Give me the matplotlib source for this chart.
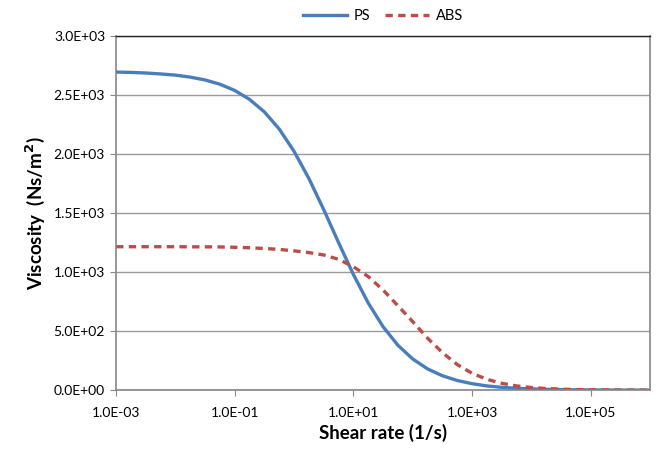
import numpy as np
import matplotlib
matplotlib.use('Agg')
import matplotlib.pyplot as plt
from matplotlib.ticker import FixedLocator, FuncFormatter

# shear rate exponents (log10 of 1/s)
log_rate = [-3, -2.75, -2.5, -2.25, -2, -1.75, -1.5, -1.25, -1, -0.75, -0.5, -0.25,
            0, 0.25, 0.5, 0.75, 1, 1.25, 1.5, 1.75, 2, 2.25, 2.5, 2.75,
            3, 3.25, 3.5, 3.75, 4, 4.25, 4.5, 4.75, 5, 5.25, 5.5, 5.75, 6]
ps = [2694, 2691, 2686, 2678, 2668, 2651, 2627, 2591, 2538, 2462, 2356, 2211,
      2022, 1792, 1528, 1249, 979, 738, 537, 380, 264, 180, 122, 82,
      55, 36, 24, 16, 10.6, 7, 4.6, 3, 2, 1.3, 0.9, 0.6, 0.4]
abs_ = [1215, 1215, 1215, 1215, 1215, 1214, 1214, 1213, 1210, 1206, 1200, 1192,
        1180, 1165, 1145, 1108, 1045, 962, 848, 715, 580, 440, 318, 217,
        143, 92, 58, 36, 22.5, 14, 8.6, 5.3, 3.2, 2, 1.2, 0.7, 0.45]

rate = [10.0 ** v for v in log_rate]

plt.rcParams['font.family'] = ['Lato', 'DejaVu Sans']

fig = plt.figure(figsize=(6.56, 4.49), dpi=100)
ax = fig.add_axes([0.177, 0.131, 0.814, 0.789])

ax.plot(rate, ps, color='#4a7ebb', lw=2.4, label='PS', solid_joinstyle='round')
ax.plot(rate, abs_, color='#be4b48', lw=2.4, ls=(0, (2.2, 1.6)), label='ABS')

ax.set_xscale('log')
ax.set_xlim(1e-3, 1e6)
ax.set_ylim(0, 3000)

ax.xaxis.set_major_locator(FixedLocator([1e-3, 1e-1, 1e1, 1e3, 1e5]))
ax.xaxis.set_minor_locator(FixedLocator([]))
ax.xaxis.set_major_formatter(FuncFormatter(lambda v, p: '%.1E' % v))
ax.set_yticks(np.arange(0, 3001, 500))
ax.yaxis.set_major_formatter(FuncFormatter(lambda v, p: '%.1E' % v))

ax.grid(axis='y', color='#9a9a9a', lw=1.0)
ax.set_axisbelow(True)

for s in ['left', 'bottom', 'right']:
    ax.spines[s].set_color('#868686')
    ax.spines[s].set_linewidth(1.2)
ax.spines['top'].set_color('#222222')
ax.spines['top'].set_linewidth(1.0)

ax.tick_params(axis='both', direction='out', length=4, color='#868686',
               labelsize=10, pad=4)
ax.tick_params(axis='x', pad=8)

ax.set_xlabel('Shear rate (1/s)', fontsize=13.5, fontweight='bold', labelpad=4)
ax.set_ylabel('Viscosity  (Ns/m$^\\mathbf{2}$)', fontsize=13.5, fontweight='bold', labelpad=5)

ax.legend(loc='lower center', bbox_to_anchor=(0.5, 1.015), ncol=2, frameon=False,
          fontsize=10.5, handlelength=3.0, columnspacing=1.0, handletextpad=0.5,
          borderaxespad=0.1)

fig.savefig('out.png', dpi=100)
